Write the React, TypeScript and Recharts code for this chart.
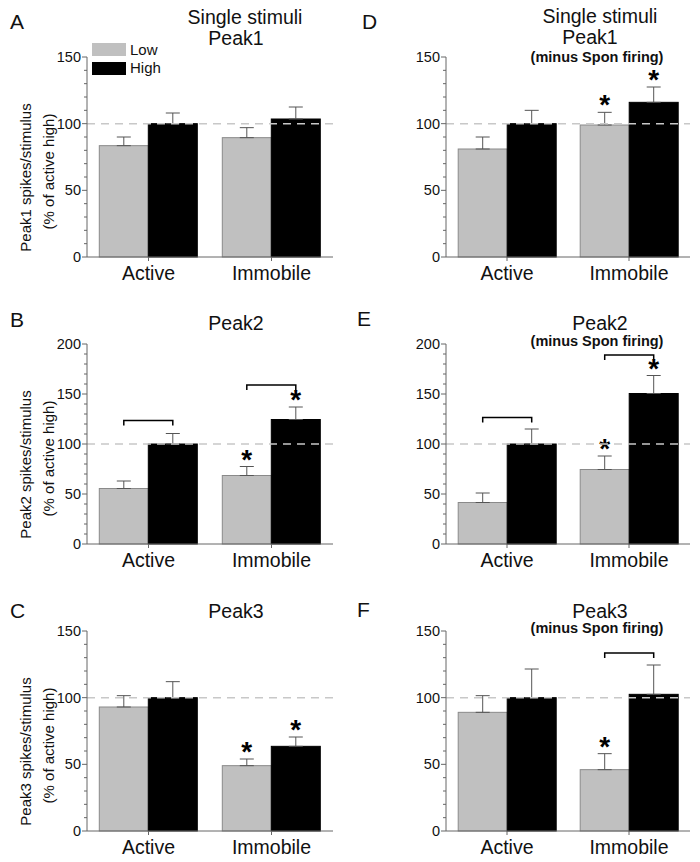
import React from "react";
import { BarChart, Bar, XAxis, YAxis, ErrorBar, ReferenceLine } from "recharts";

const categories = ["Active", "Immobile"];

// A: Peak1
const p1Low = [83.5, 89.5];
const p1LowErr = [6.5, 7.5];
const p1High = [100, 103.5];
const p1HighErr = [8, 9];
const p1LowStar = [false, false];
const p1HighStar = [false, false];
const p1Bracket = [null, null];

// B: Peak2
const p2Low = [55.5, 68.5];
const p2LowErr = [7.5, 9];
const p2High = [100, 124.5];
const p2HighErr = [10.5, 12.5];
const p2LowStar = [false, true];
const p2HighStar = [false, true];
const p2Bracket = [123.5, 159];

// C: Peak3
const p3Low = [93, 49];
const p3LowErr = [8.5, 5];
const p3High = [100, 63.5];
const p3HighErr = [12, 7];
const p3LowStar = [false, true];
const p3HighStar = [false, true];
const p3Bracket = [null, null];

// D: Peak1 minus spontaneous firing
const s1Low = [81, 99];
const s1LowErr = [9, 9.5];
const s1High = [100, 116];
const s1HighErr = [10, 11.5];
const s1LowStar = [false, true];
const s1HighStar = [false, true];
const s1Bracket = [null, null];

// E: Peak2 minus spontaneous firing
const s2Low = [41.5, 74.5];
const s2LowErr = [9.5, 13.5];
const s2High = [100, 150.5];
const s2HighErr = [15, 18];
const s2LowStar = [false, true];
const s2HighStar = [false, true];
const s2Bracket = [126.5, 189];

// F: Peak3 minus spontaneous firing
const s3Low = [89, 46];
const s3LowErr = [12.5, 12];
const s3High = [100, 102.5];
const s3HighErr = [21.5, 22];
const s3LowStar = [false, true];
const s3HighStar = [false, false];
const s3Bracket = [null, 133.5];

const ticks150 = [0, 10, 20, 30, 40, 50, 60, 70, 80, 90, 100, 110, 120, 130, 140, 150];
const ticks200 = [0, 10, 20, 30, 40, 50, 60, 70, 80, 90, 100, 110, 120, 130, 140, 150, 160, 170, 180, 190, 200];

const LOW_FILL = "#c0c0c0";
const HIGH_FILL = "#000000";
const AXIS = "#666666";
const FONT = "'Liberation Sans', Arial, sans-serif";

const buildRows = (low, lowErr, high, highErr, lowStar, highStar, bracket) =>
  categories.map((cat, i) => ({
    cat,
    low: low[i],
    high: high[i],
    lowErr: [0, lowErr[i]],
    highErr: [0, highErr[i]],
    lowStar: lowStar[i],
    highStar: highStar[i],
    bracket: bracket[i],
  }));

const makeShape = (kind) => (props) => {
  const { x, y, width, height, payload } = props;
  const value = payload[kind];
  const err = payload[kind + "Err"][1];
  const k = value ? height / value : 0;
  const errTop = y - err * k;
  const base = y + height;
  const star = payload[kind + "Star"];
  const bracket = kind === "high" ? payload.bracket : null;
  let bracketPath = null;
  if (bracket != null) {
    const by = base - bracket * k;
    const x1 = x - width / 2;
    const x2 = x + width / 2;
    bracketPath = `M${x1},${by + 5}V${by}H${x2}V${by + 5}`;
  }
  return (
    <g>
      <rect
        x={x}
        y={y}
        width={width}
        height={height}
        fill={kind === "low" ? LOW_FILL : HIGH_FILL}
        stroke={kind === "low" ? "#8a8a8a" : "#000"}
        strokeWidth={1}
      />
      {star && (
        <text x={x + width / 2} y={errTop + 2} textAnchor="middle" fontSize={28} fontWeight="bold" fill="#000">
          *
        </text>
      )}
      {bracketPath && <path d={bracketPath} fill="none" stroke="#000" strokeWidth={1.5} />}
    </g>
  );
};

const YTick = (props) => {
  const { x, y, payload } = props;
  const ax = x + 8;
  const major = payload.value % 50 === 0;
  return (
    <g>
      <line x1={ax} x2={ax - (major ? 5 : 3)} y1={y} y2={y} stroke={AXIS} strokeWidth={1} />
      {major && (
        <text x={ax - 6} y={y} dy={5} textAnchor="end" fontSize={14.5} fill="#111">
          {payload.value}
        </text>
      )}
    </g>
  );
};

const XTick = (props) => {
  const { x, y, payload } = props;
  const ay = y - 8;
  return (
    <g>
      <line x1={x} x2={x} y1={ay} y2={ay + 4} stroke={AXIS} strokeWidth={1} />
      <text x={x} y={ay + 23} textAnchor="middle" fontSize={19.5} fill="#111">
        {payload.value}
      </text>
    </g>
  );
};

const Panel = ({ rows, ticks, max, left, top, right }) => {
  const yw = right ? 96 : 87;
  return (
    <div style={{ position: "absolute", left, top, width: 350, height: 287 }}>
      <BarChart
        width={350}
        height={287}
        data={rows}
        margin={{ top: 57, right: right ? 10 : 17, bottom: 2, left: 0 }}
        barCategoryGap="10%"
        barGap={0}
      >
        <XAxis
          dataKey="cat"
          axisLine={{ stroke: AXIS }}
          tickLine={false}
          tickSize={6}
          tickMargin={2}
          height={28}
          interval={0}
          tick={<XTick />}
        />
        <YAxis
          type="number"
          domain={[0, max]}
          ticks={ticks}
          interval={0}
          axisLine={{ stroke: AXIS }}
          tickLine={false}
          tickSize={6}
          tickMargin={2}
          width={yw}
          tick={<YTick />}
        />
        <Bar dataKey="low" fill={LOW_FILL} isAnimationActive={false} shape={makeShape("low")}>
          <ErrorBar dataKey="lowErr" direction="y" width={7} stroke="#555" strokeWidth={1} />
        </Bar>
        <Bar dataKey="high" fill={HIGH_FILL} isAnimationActive={false} shape={makeShape("high")}>
          <ErrorBar dataKey="highErr" direction="y" width={7} stroke="#555" strokeWidth={1} />
        </Bar>
        <ReferenceLine y={100} stroke="#c8c8c8" strokeWidth={1.5} strokeDasharray="8 6" />
      </BarChart>
    </div>
  );
};

const YLabel = ({ name, top }) => (
  <g>
    <text transform={`translate(31,${top + 177.5}) rotate(-90)`} textAnchor="middle" fontSize={15}>
      {name} spikes/stimulus
    </text>
    <text transform={`translate(54,${top + 171.5}) rotate(-90)`} textAnchor="middle" fontSize={15}>
      (% of active high)
    </text>
  </g>
);

const Sub = ({ x, y }) => (
  <text x={x} y={y} textAnchor="middle" fontSize={14.5} fontWeight="bold">
    (minus Spon firing)
  </text>
);

export default function App() {
  return (
    <div
      style={{
        position: "absolute",
        left: 0,
        top: 0,
        width: 700,
        height: 862,
        background: "#fff",
        fontFamily: FONT,
        color: "#111",
      }}
    >
      <Panel rows={buildRows(p1Low, p1LowErr, p1High, p1HighErr, p1LowStar, p1HighStar, p1Bracket)} ticks={ticks150} max={150} left={0} top={0} />
      <Panel rows={buildRows(p2Low, p2LowErr, p2High, p2HighErr, p2LowStar, p2HighStar, p2Bracket)} ticks={ticks200} max={200} left={0} top={287} />
      <Panel rows={buildRows(p3Low, p3LowErr, p3High, p3HighErr, p3LowStar, p3HighStar, p3Bracket)} ticks={ticks150} max={150} left={0} top={574} />
      <Panel rows={buildRows(s1Low, s1LowErr, s1High, s1HighErr, s1LowStar, s1HighStar, s1Bracket)} ticks={ticks150} max={150} left={350} top={0} right />
      <Panel rows={buildRows(s2Low, s2LowErr, s2High, s2HighErr, s2LowStar, s2HighStar, s2Bracket)} ticks={ticks200} max={200} left={350} top={287} right />
      <Panel rows={buildRows(s3Low, s3LowErr, s3High, s3HighErr, s3LowStar, s3HighStar, s3Bracket)} ticks={ticks150} max={150} left={350} top={574} right />

      <svg
        width={700}
        height={862}
        style={{ position: "absolute", left: 0, top: 0, pointerEvents: "none" }}
        fontFamily={FONT}
        fill="#111"
      >
        {/* panel letters */}
        <text x={10} y={28.5} fontSize={21}>A</text>
        <text x={10} y={326.5} fontSize={21}>B</text>
        <text x={10} y={618} fontSize={21}>C</text>
        <text x={362} y={28.5} fontSize={21}>D</text>
        <text x={357} y={326} fontSize={21}>E</text>
        <text x={357} y={617} fontSize={21}>F</text>

        {/* titles */}
        <text x={245} y={23.5} fontSize={19.5} textAnchor="middle">Single stimuli</text>
        <text x={236} y={44.5} fontSize={19.5} textAnchor="middle">Peak1</text>
        <text x={236} y={330} fontSize={19.5} textAnchor="middle">Peak2</text>
        <text x={236} y={618} fontSize={19.5} textAnchor="middle">Peak3</text>

        <text x={600} y={23} fontSize={19.5} textAnchor="middle">Single stimuli</text>
        <text x={590} y={43.5} fontSize={19.5} textAnchor="middle">Peak1</text>
        <Sub x={597} y={61.5} />
        <text x={600} y={330} fontSize={19.5} textAnchor="middle">Peak2</text>
        <Sub x={597} y={346} />
        <text x={600} y={618} fontSize={19.5} textAnchor="middle">Peak3</text>
        <Sub x={597} y={633} />

        {/* y-axis titles */}
        <YLabel name="Peak1" top={0} />
        <YLabel name="Peak2" top={287} />
        <YLabel name="Peak3" top={574} />

        {/* legend */}
        <rect x={92} y={43} width={34} height={13} fill={LOW_FILL} />
        <rect x={92} y={62} width={34} height={13} fill={HIGH_FILL} />
        <text x={130} y={55} fontSize={15}>Low</text>
        <text x={130} y={73} fontSize={15}>High</text>
      </svg>
    </div>
  );
}
